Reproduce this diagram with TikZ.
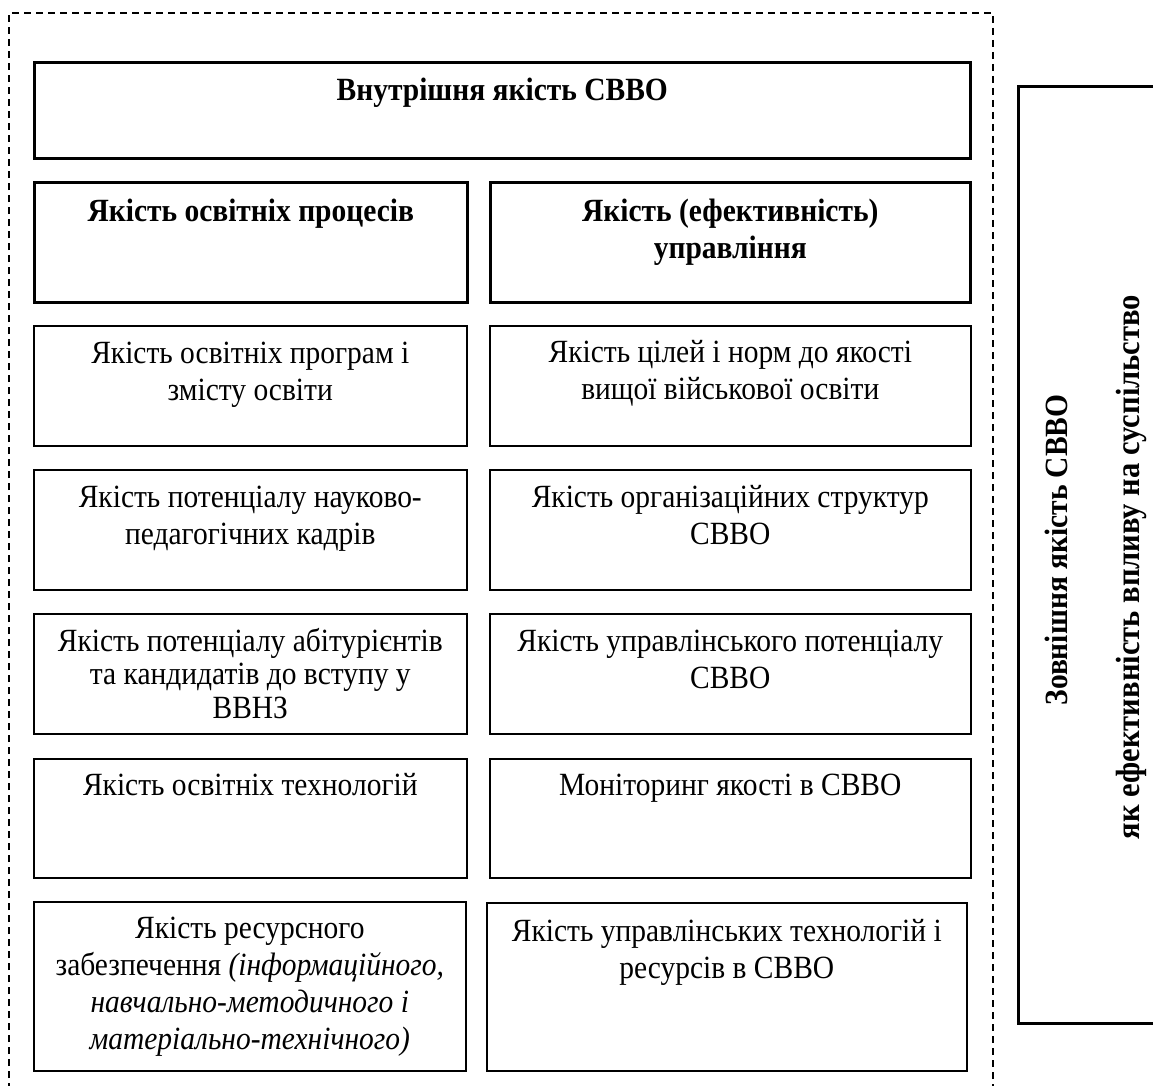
\documentclass[tikz,border=0pt]{standalone}
\usepackage{fontspec}
\setmainfont{Liberation Serif}[FakeStretch=0.91]
\usepackage{graphicx}
\tikzset{
  hbox/.style={draw, line width=2.6pt, inner sep=0pt, anchor=north west, minimum height=120pt},
  cbox/.style={draw, line width=1.6pt, inner sep=0pt, anchor=north west, minimum height=120pt},
  xbox/.style={draw, line width=2.8pt, inner sep=0pt, anchor=north west},
  txt/.style={anchor=base, inner sep=0pt, font=\fontsize{32.4}{37}\selectfont},
  btxt/.style={txt, font=\fontsize{32.4}{37}\selectfont\bfseries},
  rtxt/.style={anchor=base, inner sep=0pt, rotate=90, font=\fontsize{32.4}{37}\selectfont\bfseries},
  frame/.style={line width=1.6pt, dash pattern=on 7pt off 5pt},
}
\newcommand\lines[2]{\parbox[t]{#1pt}{\centering #2}}
\begin{document}
\begin{tikzpicture}[x=1pt,y=-1pt]
\clip (0,0) rectangle (1153,1086);
\fill[white] (0,0) rectangle (1153,1086);
% outer dashed frame
\draw[frame] (9,1090) -- (9,13) -- (993,13) -- (993,1090);
% boxes
\node[hbox, minimum width=936pt, minimum height=96pt] (top) at (33,61) {};
\node[hbox, minimum width=433pt] (hL) at (33,181) {};
\node[hbox, minimum width=480pt] (hR) at (489,181) {};
\node[cbox, minimum width=433pt] (r1L) at (33,325) {};
\node[cbox, minimum width=481pt] (r1R) at (489,325) {};
\node[cbox, minimum width=433pt] (r2L) at (33,469) {};
\node[cbox, minimum width=481pt] (r2R) at (489,469) {};
\node[cbox, minimum width=433pt] (r3L) at (33,613) {};
\node[cbox, minimum width=481pt] (r3R) at (489,613) {};
\node[cbox, minimum width=433pt, minimum height=119pt] (r4L) at (33,758) {};
\node[cbox, minimum width=481pt, minimum height=119pt] (r4R) at (489,758) {};
\node[cbox, minimum width=432pt, minimum height=169pt] (r5L) at (33,901) {};
\node[cbox, minimum width=480pt, minimum height=168pt] (r5R) at (486,902) {};
\node[xbox, minimum width=170pt, minimum height=937pt] (ext) at (1017,85) {};
% texts
\node[btxt] (ttop) at ([yshift=-40pt]top.north) {Внутрішня якість СВВО};
\node[btxt] (thL) at ([yshift=-41pt]hL.north) {Якість освітніх процесів};
\node[btxt] (thR) at ([yshift=-40pt]hR.north) {\lines{470}{Якість (ефективність)\\управління}};
\node[txt] (t1L) at ([yshift=-38pt]r1L.north) {\lines{425}{Якість освітніх програм і\\змісту освіти}};
\node[txt] (t1R) at ([yshift=-37pt]r1R.north) {\lines{472}{Якість цілей і норм до якості\\вищої військової освіти}};
\node[txt] (t2L) at ([yshift=-38pt]r2L.north) {\lines{425}{Якість потенціалу науково-\\педагогічних кадрів}};
\node[txt] (t2R) at ([yshift=-38pt]r2R.north) {\lines{472}{Якість організаційних структур\\СВВО}};
\node[txt] (t3L) at ([yshift=-38pt]r3L.north) {\lines{425}{\fontsize{32.4}{33.5}\selectfont Якість потенціалу абітурієнтів\\та кандидатів до вступу у\\ВВНЗ}};
\node[txt] (t3R) at ([yshift=-38pt]r3R.north) {\lines{472}{Якість управлінського потенціалу\\СВВО}};
\node[txt] (t4L) at ([yshift=-37pt]r4L.north) {Якість освітніх технологій};
\node[txt] (t4R) at ([yshift=-37pt]r4R.north) {Моніторинг якості в СВВО};
\node[txt] (t5L) at ([yshift=-37pt]r5L.north) {\lines{425}{Якість ресурсного\\забезпечення \textit{(інформаційного,}\\\textit{навчально-методичного і}\\\textit{матеріально-технічного)}}};
\node[txt] (t5R) at ([yshift=-39pt]r5R.north) {\lines{472}{Якість управлінських технологій і\\ресурсів в СВВО}};
\node[rtxt] (e1) at (1067,550) {Зовнішня якість СВВО};
\node[rtxt] (e2) at (1139,567) {\fontsize{33.6}{37}\selectfont як ефективність впливу на суспільство};
\end{tikzpicture}
\end{document}
